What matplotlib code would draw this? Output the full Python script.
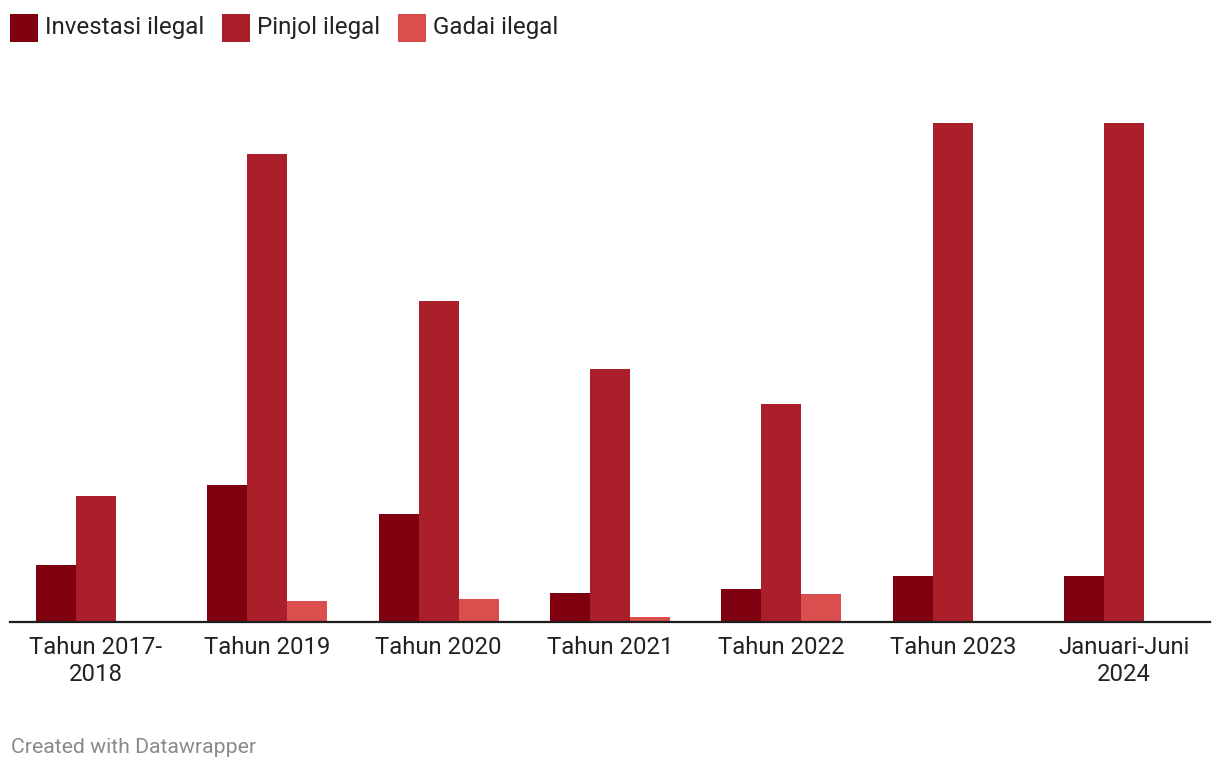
import matplotlib
matplotlib.use("Agg")
import matplotlib.pyplot as plt
from matplotlib.patches import Rectangle
import numpy as np

plt.rcParams['font.family'] = ['Roboto', 'DejaVu Sans']

categories = ["Tahun 2017-\n2018", "Tahun 2019", "Tahun 2020", "Tahun 2021",
              "Tahun 2022", "Tahun 2023", "Januari-Juni\n2024"]
series_names = ["Investasi ilegal", "Pinjol ilegal", "Gadai ilegal"]
investasi = [182, 437, 345, 93, 104, 145, 145]
pinjol = [402, 1493, 1024, 807, 695, 1593, 1593]
gadai = [0, 65, 72, 14, 88, 0, 0]
colors = ["#7f000e", "#ab1f2b", "#db4e4e"]

W, H = 1220, 772
fig = plt.figure(figsize=(W / 100, H / 100), dpi=100)
base_px = 621.7
top_px = 100
ax = fig.add_axes([10 / W, (H - base_px) / H, 1200 / W, (base_px - top_px) / H])

x = np.arange(len(categories))
bw = 40 / 171.33
for i, (vals, c) in enumerate(zip([investasi, pinjol, gadai], colors)):
    ax.bar(x + (i - 1) * bw, vals, width=bw, color=c, linewidth=0)

ax.set_xlim(-0.5, len(categories) - 0.5)
ax.set_ylim(0, (base_px - top_px) * 3.192)
for s in ["top", "right", "left"]:
    ax.spines[s].set_visible(False)
ax.spines["bottom"].set_color("#1e1e1e")
ax.spines["bottom"].set_linewidth(1.6)
ax.set_yticks([])
ax.set_xticks(x)
ax.set_xticklabels(categories, fontsize=17.2, color="#222222", linespacing=1.2)
ax.tick_params(axis="x", length=0, pad=10.5)

# legend
leg_x = [10, 222, 398]
for lx, name, c in zip(leg_x, series_names, colors):
    fig.patches.append(Rectangle((lx / W, 1 - 42 / H), 28 / W, 28 / H,
                                 transform=fig.transFigure, color=c, linewidth=0))
    fig.text((lx + 35) / W, 1 - 34 / H, name, fontsize=17.4, color="#222222",
             va="baseline", ha="left")

fig.text(11 / W, 1 - 753 / H, "Created with Datawrapper", fontsize=15.3,
         color="#8a8a8a", va="baseline", ha="left")

fig.savefig("out.png", dpi=100, facecolor="white")
